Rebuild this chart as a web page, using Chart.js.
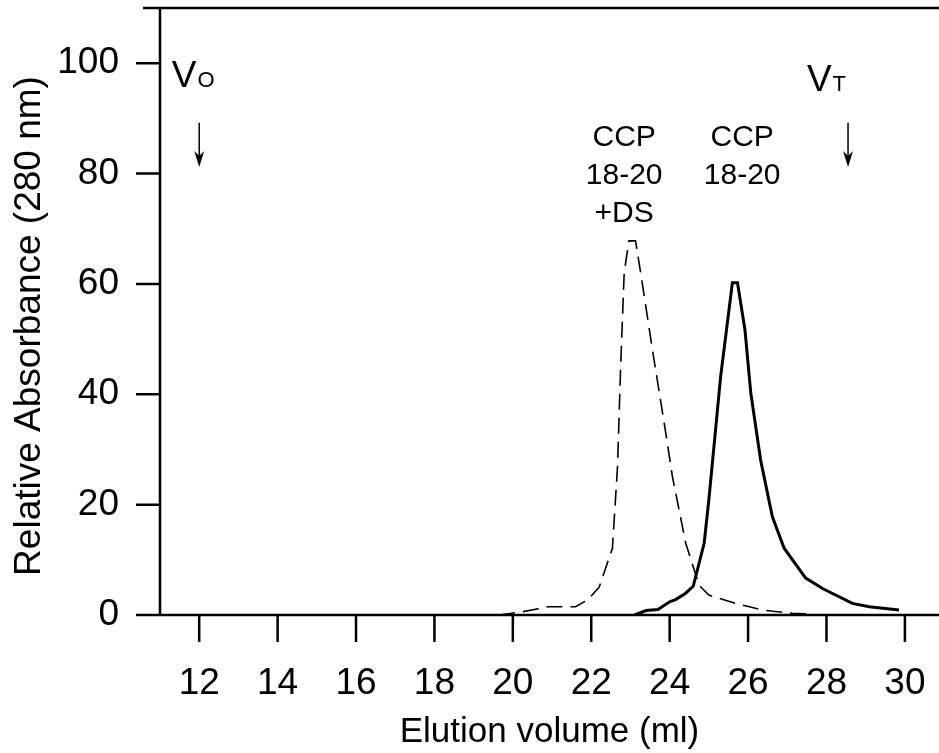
<!DOCTYPE html>
<html>
<head>
<title>Elution profile CCP 18-20</title>
<script src="https://cdn.jsdelivr.net/npm/chart.js"></script>
<style>
    body {
        margin: 0;
        background-color: #fff;
    }
    canvas {
        display: block;
    }
</style>
</head>
<body>
<canvas id="myChart" width="939" height="753"></canvas>
<script>
// CCP 18-20 alone (solid line)
var ccpVol = [23.1, 23.4, 23.7, 24.0, 24.15, 24.4, 24.6, 24.88, 25.0, 25.3, 25.6, 25.73, 25.92, 26.07, 26.32, 26.62, 26.92, 27.47, 27.9, 28.66, 29.09, 29.85];
var ccpAbs = [0, 0.8, 1.0, 2.4, 2.8, 3.9, 5.2, 13.0, 20.9, 43.2, 60.2, 60.2, 51.7, 40.2, 28.1, 17.8, 12.1, 6.7, 4.8, 2.1, 1.5, 0.9];

// CCP 18-20 + DS (dashed line)
var dsVol = [19.65, 20.25, 20.55, 20.9, 21.6, 21.9, 22.2, 22.54, 22.67, 22.75, 22.84, 22.96, 23.13, 23.3, 23.56, 23.9, 24.07, 24.41, 24.75, 25.0, 25.68, 26.03, 26.37, 27.13, 27.56];
var dsAbs = [0, 0.6, 1.0, 1.5, 1.5, 2.7, 5.0, 12.1, 26.9, 45.1, 62.0, 67.8, 67.8, 60.2, 48.1, 33.0, 25.1, 13.0, 5.4, 3.6, 2.1, 1.5, 0.9, 0.3, 0.2];

// tick labels
var xLabels = [12, 14, 16, 18, 20, 22, 24, 26, 28, 30];
var yLabels = [0, 20, 40, 60, 80, 100];

var fontFamily = "'Liberation Sans', Arial, Helvetica, sans-serif";

function pts(xs, ys) {
    var out = [];
    for (var i = 0; i < xs.length; i++) out.push({x: xs[i], y: ys[i]});
    return out;
}

// text annotations and arrows (x, y in data units)
var notes = [
    {lines: ['CCP', '18-20', '+DS'], x: 22.84, y: 85.0},
    {lines: ['CCP', '18-20'], x: 25.85, y: 85.0}
];
var arrows = [
    {x: 12, y1: 89.2, y2: 81.2},
    {x: 28.55, y1: 89.2, y2: 81.2}
];
var markers = [
    {main: 'V', sub: 'O', x: 11.3, y: 95.6},
    {main: 'V', sub: 'T', x: 27.5, y: 94.9}
];

function noPad(scale) {
    scale.paddingTop = 0;
    scale.paddingBottom = 0;
    scale.paddingLeft = 0;
    scale.paddingRight = 0;
}

var drawExtras = {
    id: 'drawExtras',
    afterDraw: function(chart) {
        var ctx = chart.ctx;
        var a = chart.chartArea;
        var xs = chart.scales.x;
        var ys = chart.scales.y;
        ctx.save();

        // axes frame and ticks
        ctx.strokeStyle = '#000';
        ctx.lineWidth = 2.5;
        ctx.beginPath();
        ctx.moveTo(a.left, a.top);
        ctx.lineTo(a.left, a.bottom);
        ctx.moveTo(a.left - 17, a.bottom);
        ctx.lineTo(a.right, a.bottom);
        ctx.moveTo(a.left - 17, a.top);
        ctx.lineTo(a.right, a.top);
        xs.ticks.forEach(function(t) {
            var px = xs.getPixelForValue(t.value);
            var len = t.value % 2 === 0 ? 27 : 18;
            ctx.moveTo(px, a.bottom);
            ctx.lineTo(px, a.bottom + len);
        });
        ys.ticks.forEach(function(t) {
            var py = ys.getPixelForValue(t.value);
            var len = t.value % 20 === 0 ? 24 : 17;
            ctx.moveTo(a.left, py);
            ctx.lineTo(a.left - len, py);
        });
        ctx.stroke();

        // y axis title
        ctx.fillStyle = '#000';
        ctx.font = '37px ' + fontFamily;
        ctx.textAlign = 'center';
        ctx.textBaseline = 'alphabetic';
        ctx.save();
        ctx.translate(40, 326);
        ctx.rotate(-Math.PI / 2);
        ctx.fillText('Relative Absorbance (280 nm)', 0, 0);
        ctx.restore();

        // peak labels
        ctx.font = '30px ' + fontFamily;
        notes.forEach(function(n) {
            var px = xs.getPixelForValue(n.x);
            var py = ys.getPixelForValue(n.y);
            n.lines.forEach(function(s, i) {
                ctx.fillText(s, px, py + i * 38);
            });
        });

        // V0 / VT markers
        ctx.textAlign = 'left';
        markers.forEach(function(m) {
            var px = xs.getPixelForValue(m.x);
            var py = ys.getPixelForValue(m.y);
            ctx.font = '37px ' + fontFamily;
            ctx.fillText(m.main, px, py);
            var w = ctx.measureText(m.main).width;
            ctx.font = '22px ' + fontFamily;
            ctx.fillText(m.sub, px + w + 1, py);
        });

        // arrows
        ctx.lineWidth = 1.5;
        arrows.forEach(function(r) {
            var px = xs.getPixelForValue(r.x);
            var top = ys.getPixelForValue(r.y1);
            var bot = ys.getPixelForValue(r.y2);
            ctx.beginPath();
            ctx.moveTo(px, top);
            ctx.lineTo(px, bot - 10);
            ctx.stroke();
            ctx.beginPath();
            ctx.moveTo(px, bot);
            ctx.lineTo(px - 5, bot - 16);
            ctx.lineTo(px, bot - 11);
            ctx.lineTo(px + 5, bot - 16);
            ctx.closePath();
            ctx.fill();
        });

        ctx.restore();
    }
};

var ctx = document.getElementById('myChart').getContext('2d');
var myChart = new Chart(ctx, {
    type: 'line',
    data: {
        datasets: [{
            label: 'CCP 18-20 +DS',
            data: pts(dsVol, dsAbs),
            borderColor: '#000',
            borderWidth: 1.6,
            borderDash: [16, 8],
            pointRadius: 0,
            tension: 0,
            fill: false
        }, {
            label: 'CCP 18-20',
            data: pts(ccpVol, ccpAbs),
            borderColor: '#000',
            borderWidth: 3,
            pointRadius: 0,
            tension: 0,
            fill: false
        }]
    },
    options: {
        responsive: false,
        animation: false,
        layout: {
            padding: {top: 8, right: 0, bottom: 0, left: 0}
        },
        plugins: {
            legend: {display: false},
            tooltip: {enabled: false}
        },
        scales: {
            x: {
                type: 'linear',
                min: 11,
                max: 30.87,
                grid: {display: false, drawTicks: false},
                border: {display: false},
                ticks: {
                    stepSize: 1,
                    includeBounds: false,
                    autoSkip: false,
                    maxRotation: 0,
                    padding: 47,
                    color: '#000',
                    font: {family: fontFamily, size: 37},
                    callback: function(v) {
                        return xLabels.indexOf(v) >= 0 ? String(v) : null;
                    }
                },
                title: {
                    display: true,
                    text: 'Elution volume (ml)',
                    color: '#000',
                    font: {family: fontFamily, size: 35},
                    padding: 0
                },
                afterFit: function(scale) {
                    scale.height = 138;
                    noPad(scale);
                }
            },
            y: {
                min: 0,
                max: 110,
                grid: {display: false, drawTicks: false},
                border: {display: false},
                ticks: {
                    stepSize: 10,
                    autoSkip: false,
                    padding: 41,
                    color: '#000',
                    font: {family: fontFamily, size: 37},
                    callback: function(v) {
                        return yLabels.indexOf(v) >= 0 ? String(v) : null;
                    }
                },
                afterFit: function(scale) {
                    scale.width = 160;
                    noPad(scale);
                }
            }
        }
    },
    plugins: [drawExtras]
});
</script>
</body>
</html>
